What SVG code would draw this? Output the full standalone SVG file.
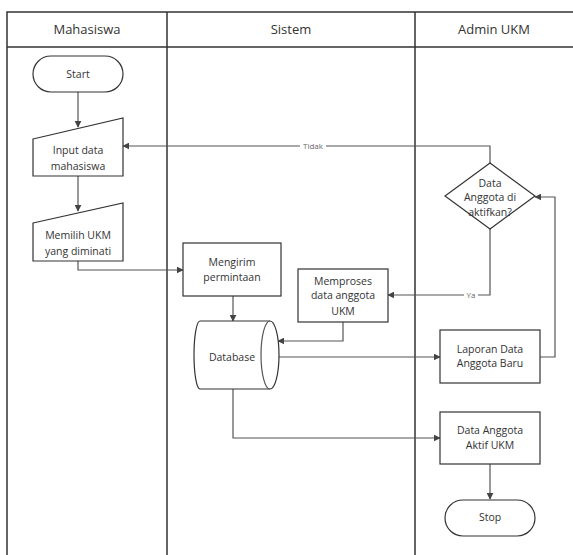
<svg xmlns="http://www.w3.org/2000/svg" width="573" height="555" viewBox="0 0 573 555">
<defs>
<marker id="arr" viewBox="0 0 10 10" refX="9" refY="5" markerWidth="7" markerHeight="7" markerUnits="userSpaceOnUse" orient="auto"><path d="M0,0 L10,5 L0,10 Z" fill="#444"/></marker>
<style>
.lane{fill:none;stroke:#333;stroke-width:1.5}
.shape{fill:#fff;stroke:#333;stroke-width:1.2}
.conn{fill:none;stroke:#555;stroke-width:1.2;marker-end:url(#arr)}
.line{fill:none;stroke:#555;stroke-width:1.2}
.t{font-family:"Open Sans","Noto Sans",sans-serif;font-size:10.5px;fill:#333;text-anchor:middle}
.h{font-family:"Open Sans","Noto Sans",sans-serif;font-size:13px;fill:#333;text-anchor:middle}
.lbl{font-family:"Open Sans","Noto Sans",sans-serif;font-size:8px;fill:#666;text-anchor:middle}
</style>
</defs>
<rect width="573" height="555" fill="#fff"/>
<g id="lanes">
<path class="lane" d="M7,555 V12 H573 M7,47 H573 M167,12 V555 M415,12 V555"/>
<text class="h" x="87" y="34">Mahasiswa</text>
<text class="h" x="291" y="34">Sistem</text>
<text class="h" x="494" y="34">Admin UKM</text>
</g>
<g id="connectors">
<path class="conn" d="M78,92 V127"/>
<path class="conn" d="M78,176 V211"/>
<path class="conn" d="M78,261 V270 H183"/>
<path class="conn" d="M233,296 V321"/>
<path class="conn" d="M343,322 V341 H278"/>
<path class="conn" d="M279,357 H440"/>
<path class="conn" d="M233,389 V438 H440"/>
<path class="conn" d="M490,464 V499"/>
<path class="conn" d="M540,357 H555 V197 H535"/>
<path class="conn" d="M490,163 V146 H123"/>
<path class="conn" d="M490,229 V295 H388"/>
<rect x="300" y="141" width="26" height="10" fill="#fff"/>
<text class="lbl" x="313" y="149">Tidak</text>
<rect x="464" y="290" width="14" height="10" fill="#fff"/>
<text class="lbl" x="471" y="298">Ya</text>
</g>
<g id="start">
<rect class="shape" x="33" y="56" width="90" height="36" rx="18"/>
<text class="t" x="78" y="78">Start</text>
</g>
<g id="input">
<path class="shape" d="M33,139 L123,118 V176 H33 Z"/>
<text class="t" x="78" y="154">Input data</text>
<text class="t" x="78" y="170">mahasiswa</text>
</g>
<g id="memilih">
<path class="shape" d="M33,223 L123,203 V261 H33 Z"/>
<text class="t" x="78" y="239">Memilih UKM</text>
<text class="t" x="78" y="255">yang diminati</text>
</g>
<g id="mengirim">
<rect class="shape" x="183" y="243" width="98" height="53"/>
<text class="t" x="232" y="266">Mengirim</text>
<text class="t" x="232" y="281">permintaan</text>
</g>
<g id="memproses">
<rect class="shape" x="298" y="269" width="90" height="53"/>
<text class="t" x="343" y="285">Memproses</text>
<text class="t" x="343" y="299">data anggota</text>
<text class="t" x="343" y="315">UKM</text>
</g>
<g id="database">
<path class="shape" d="M200,321 H270 A9,34 0 0 1 270,389 H200 A6,34 0 0 1 200,321 Z"/>
<path class="line" d="M270,321 A9,34 0 0 0 270,389"/>
<text class="t" x="232" y="361">Database</text>
</g>
<g id="decision">
<path class="shape" d="M490,163 L535,196 L490,229 L445,196 Z"/>
<text class="t" x="490" y="187">Data</text>
<text class="t" x="490" y="201">Anggota di</text>
<text class="t" x="490" y="216">aktifkan?</text>
</g>
<g id="laporan">
<rect class="shape" x="440" y="330" width="100" height="53"/>
<text class="t" x="490" y="353">Laporan Data</text>
<text class="t" x="490" y="367">Anggota Baru</text>
</g>
<g id="aktif">
<rect class="shape" x="440" y="412" width="100" height="52"/>
<text class="t" x="490" y="434">Data Anggota</text>
<text class="t" x="490" y="449">Aktif UKM</text>
</g>
<g id="stop">
<rect class="shape" x="445" y="500" width="90" height="36" rx="18"/>
<text class="t" x="490" y="521">Stop</text>
</g>
</svg>
